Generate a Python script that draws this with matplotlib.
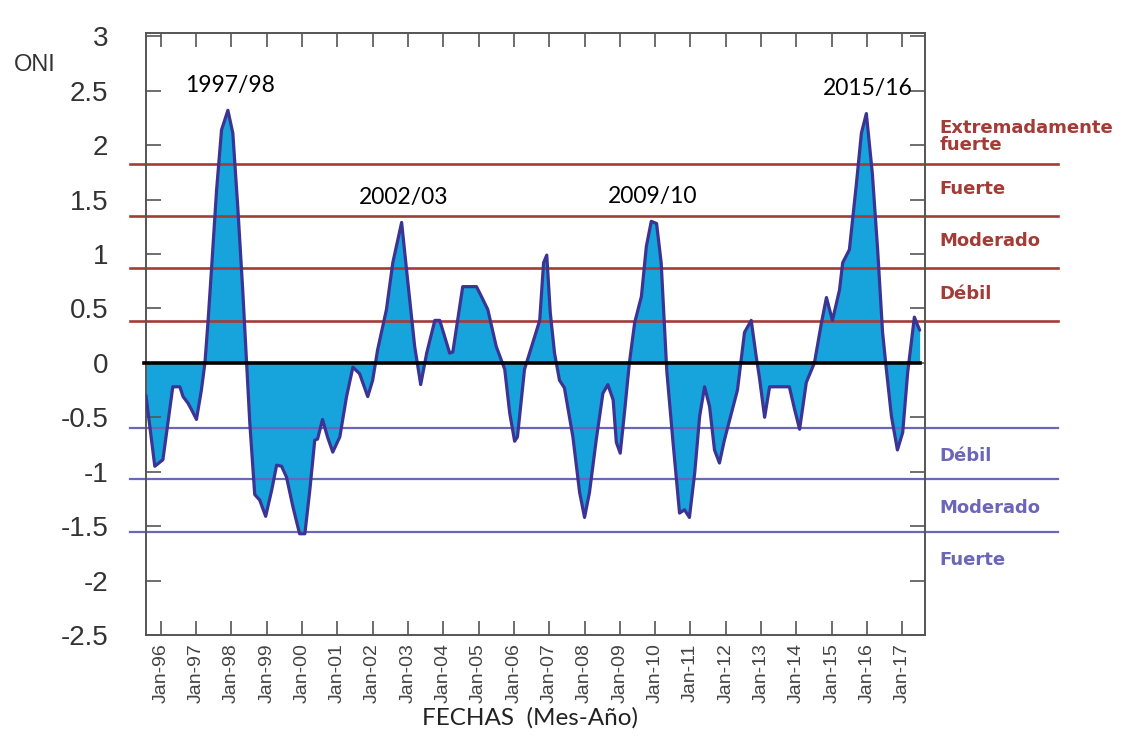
import numpy as np
import matplotlib.pyplot as plt

# ONI values (decimal year, index)
oni_year = [1995.58, 1995.83, 1996.06, 1996.34, 1996.54, 1996.63, 1996.77, 1996.87, 1997.01, 1997.15,
            1997.25, 1997.34, 1997.44, 1997.58, 1997.72, 1997.90, 1998.04, 1998.18, 1998.32, 1998.43,
            1998.52, 1998.66, 1998.80, 1998.97, 1999.14, 1999.28, 1999.42, 1999.56, 1999.74, 1999.93,
            2000.08, 2000.22, 2000.36, 2000.44, 2000.58, 2000.72, 2000.87, 2001.07, 2001.26, 2001.44,
            2001.63, 2001.86, 2002.00, 2002.14, 2002.39, 2002.57, 2002.82, 2002.99, 2003.19, 2003.36,
            2003.53, 2003.76, 2003.90, 2004.18, 2004.27, 2004.55, 2004.94, 2005.08, 2005.26, 2005.50,
            2005.74, 2005.88, 2006.02, 2006.10, 2006.30, 2006.53, 2006.73, 2006.84, 2006.93, 2007.03,
            2007.15, 2007.29, 2007.43, 2007.67, 2007.86, 2008.00, 2008.14, 2008.33, 2008.52, 2008.66,
            2008.81, 2008.90, 2009.01, 2009.13, 2009.27, 2009.42, 2009.61, 2009.75, 2009.89, 2010.04,
            2010.17, 2010.21, 2010.33, 2010.50, 2010.69, 2010.83, 2010.97, 2011.12, 2011.26, 2011.40,
            2011.54, 2011.68, 2011.82, 2011.96, 2012.16, 2012.33, 2012.53, 2012.72, 2012.86, 2012.95,
            2013.10, 2013.24, 2013.80, 2013.95, 2014.09, 2014.28, 2014.51, 2014.71, 2014.85, 2015.02,
            2015.22, 2015.31, 2015.50, 2015.70, 2015.84, 2015.98, 2016.15, 2016.30, 2016.44, 2016.54,
            2016.69, 2016.86, 2017.01, 2017.15, 2017.34, 2017.49]
oni_value = [-0.30, -0.95, -0.89, -0.22, -0.22, -0.31, -0.37, -0.43, -0.52, -0.25,
             0.00, 0.39, 0.88, 1.59, 2.14, 2.32, 2.11, 1.43, 0.67, 0.00,
             -0.55, -1.21, -1.26, -1.41, -1.17, -0.94, -0.95, -1.05, -1.32, -1.57,
             -1.57, -1.17, -0.71, -0.70, -0.52, -0.68, -0.82, -0.68, -0.31, -0.04,
             -0.10, -0.31, -0.16, 0.12, 0.49, 0.92, 1.29, 0.76, 0.15, -0.20,
             0.09, 0.39, 0.39, 0.09, 0.10, 0.70, 0.70, 0.61, 0.49, 0.15,
             -0.06, -0.46, -0.72, -0.68, -0.06, 0.18, 0.39, 0.92, 0.99, 0.46,
             0.09, -0.16, -0.23, -0.68, -1.19, -1.42, -1.19, -0.71, -0.28, -0.20,
             -0.34, -0.73, -0.83, -0.46, 0.00, 0.37, 0.61, 1.07, 1.30, 1.28,
             0.92, 0.67, -0.08, -0.71, -1.38, -1.35, -1.42, -1.01, -0.49, -0.22,
             -0.40, -0.80, -0.92, -0.71, -0.46, -0.25, 0.28, 0.39, 0.06, -0.13,
             -0.50, -0.22, -0.22, -0.43, -0.61, -0.18, 0.00, 0.37, 0.60, 0.39,
             0.67, 0.92, 1.04, 1.65, 2.11, 2.29, 1.74, 1.04, 0.28, -0.04,
             -0.49, -0.80, -0.64, -0.09, 0.42, 0.30]

tick_years = list(range(1996, 2018))
tick_labels = ['Jan-%02d' % (y % 100) for y in tick_years]

# thresholds as drawn
nino_levels = [1.83, 1.35, 0.87, 0.38]
nino_names = ['Extremadamente\nfuerte', 'Fuerte', 'Moderado', 'Débil']
nina_levels = [-0.60, -1.07, -1.55]
nina_names = ['Débil', 'Moderado', 'Fuerte']

events = ['1997/98', '2002/03', '2009/10', '2015/16']
event_windows = [(1997, 1999), (2002, 2004), (2009, 2011), (2015, 2017)]

red = '#a33b36'
blue = '#6c66b8'
arial = ['Liberation Sans', 'DejaVu Sans']
calib = ['Lato', 'DejaVu Sans']

x = np.array(oni_year)
y = np.array(oni_value)

fig = plt.figure(figsize=(11.28, 7.4), dpi=100)
ax = fig.add_axes([0.1294, 0.1419, 0.6906, 0.8135])

ax.fill_between(x, y, 0, color='#17a3dc', lw=0, zorder=1)
for lv in nino_levels:
    ax.axhline(lv, xmin=-0.021, xmax=1.171, color=red, lw=1.9, clip_on=False, zorder=2)
for lv in nina_levels:
    ax.axhline(lv, xmin=-0.021, xmax=1.171, color=blue, lw=1.6, clip_on=False, zorder=2)
ax.plot(x, y, color='#3b3494', lw=2.3, solid_joinstyle='round', solid_capstyle='round', zorder=3)
ax.plot([1995.52, x[-1]], [0, 0], color='black', lw=2.6, clip_on=False, zorder=4)

ax.set_xlim(1995.58, 2017.64)
ax.set_ylim(-2.5, 3.03)

ax.set_xticks(tick_years)
ax.set_xticklabels(tick_labels, rotation=90, fontsize=14, color='#444444', family=arial)
yt = np.arange(-2.5, 3.01, 0.5)
ax.set_yticks(yt)
ax.set_yticklabels(['%g' % v for v in yt], fontsize=20, color='#333333', family=arial)
ax.tick_params(axis='x', direction='in', length=10, width=1.2, color='#555555', top=True, pad=6)
ax.tick_params(axis='y', direction='in', length=11, width=1.2, color='#555555', right=True, pad=27)
for s in ax.spines.values():
    s.set_color('#555555')
    s.set_linewidth(1.4)

ytr = ax.get_yaxis_transform()
for lv, nm in zip(nino_levels, nino_names):
    ax.text(1.019, lv + 0.25, nm, transform=ytr, color=red, fontsize=13, fontweight='bold',
            family='DejaVu Sans', ha='left', va='center', linespacing=0.95)
for lv, nm in zip(nina_levels, nina_names):
    ax.text(1.019, lv - 0.26, nm, transform=ytr, color=blue, fontsize=13, fontweight='bold',
            family='DejaVu Sans', ha='left', va='center')

for lab, (a, b) in zip(events, event_windows):
    m = (x >= a) & (x <= b)
    i = np.argmax(np.where(m, y, -9))
    ax.text(x[i] + 0.05, y[i] + 0.23, lab, fontsize=16.5, family=calib,
            ha='center', va='center', color='black')

fig.text(0.012, 0.912, 'ONI', fontsize=17, color='#333333', ha='left', va='center', family=arial)
fig.text(0.47, 0.03, 'FECHAS  (Mes-Año)', fontsize=17.5, family=calib,
         ha='center', va='center', color='#222222')

fig.savefig('out.png', dpi=100, facecolor='white')
